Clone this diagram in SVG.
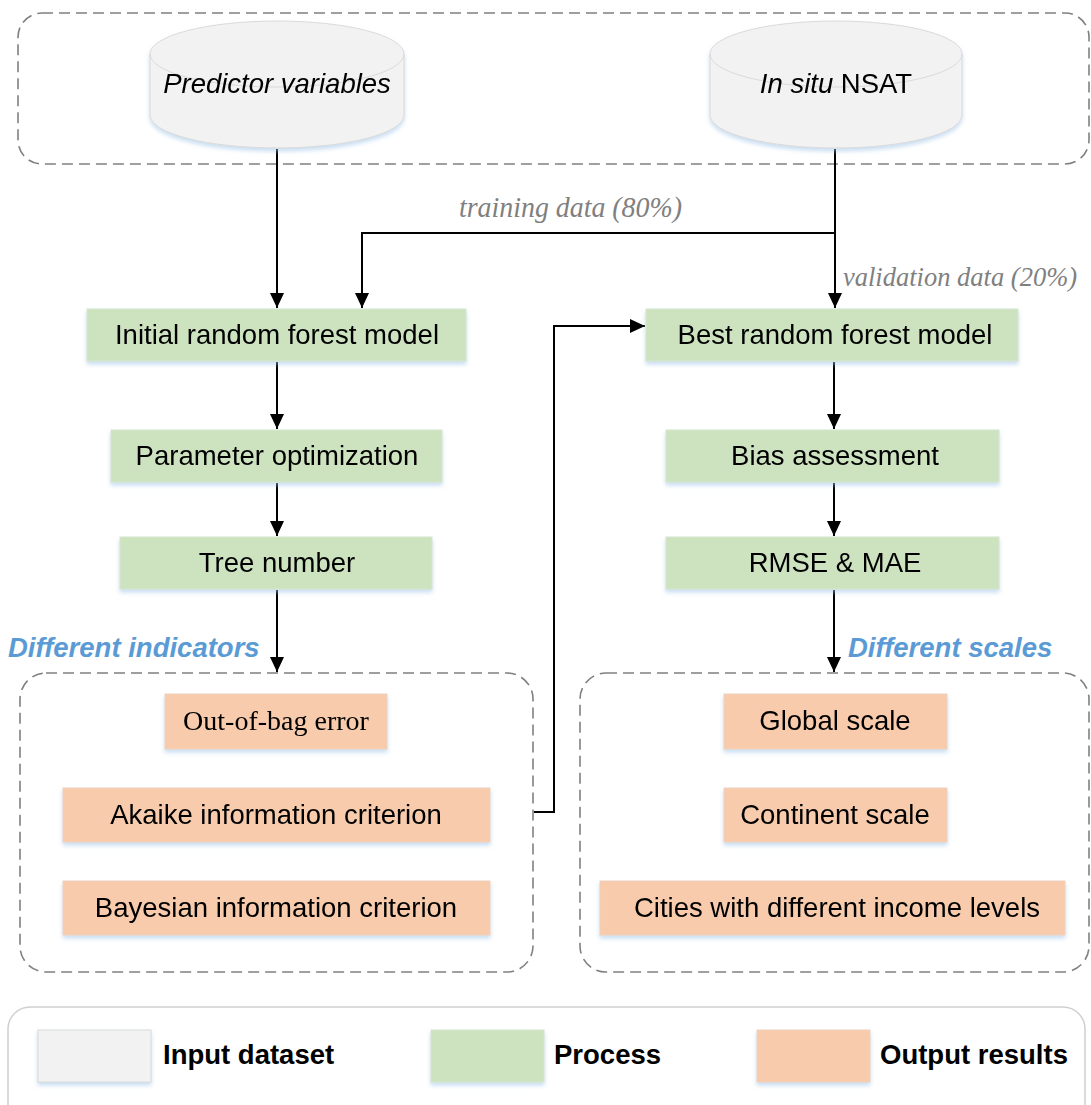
<svg xmlns="http://www.w3.org/2000/svg" width="1091" height="1105" viewBox="0 0 1091 1105">
<style>
.sans{font-family:"Liberation Sans",Arial,sans-serif;font-size:27.5px;fill:#000}
.serif{font-family:"Liberation Serif","Times New Roman",serif;font-size:28px;fill:#000}
.lbl{font-family:"Liberation Serif","Times New Roman",serif;font-style:italic;font-size:29px;fill:#808080}
.lbl2{font-family:"Liberation Serif","Times New Roman",serif;font-style:italic;font-size:26.5px;fill:#808080}
.grp{font-family:"Liberation Sans",Arial,sans-serif;font-style:italic;font-weight:bold;font-size:27.5px;fill:#5b9bd5}
.leg{font-family:"Liberation Sans",Arial,sans-serif;font-weight:bold;font-size:27.5px;fill:#000}
.proc{fill:#cde3c0;stroke:#d6e6cc;stroke-width:1}
.out{fill:#f7cbab;stroke:#f0d2bd;stroke-width:1}
.inp{fill:#f2f2f2;stroke:#dadada;stroke-width:1}
.dash{fill:none;stroke:#808080;stroke-width:1.6;stroke-dasharray:11 6}
.conn{fill:none;stroke:#000;stroke-width:2}
</style>
<defs>
<filter id="sh" x="-10%" y="-20%" width="120%" height="160%">
<feDropShadow dx="0" dy="3" stdDeviation="2" flood-color="#9dc3e6" flood-opacity="0.55"/>
</filter>
<marker id="arr" markerWidth="14" markerHeight="16" refX="15" refY="7" orient="auto" markerUnits="userSpaceOnUse">
<path d="M0,0 L15,7 L0,14 Z" fill="#000"/>
</marker>
</defs>

<g id="container-inputs"><rect class="dash" x="18" y="13" width="1071" height="151" rx="24"/></g>
<g id="container-indicators"><rect class="dash" x="20" y="673" width="513" height="299" rx="26"/></g>
<g id="container-scales"><rect class="dash" x="580" y="673" width="509" height="299" rx="26"/></g>

<g id="connectors">
<path class="conn" d="M277 149 V308" marker-end="url(#arr)"/>
<path class="conn" d="M835 149 V308" marker-end="url(#arr)"/>
<path class="conn" d="M835 233 H362 V308" marker-end="url(#arr)"/>
<path class="conn" d="M277 362 V429" marker-end="url(#arr)"/>
<path class="conn" d="M277 483 V536" marker-end="url(#arr)"/>
<path class="conn" d="M277 590 V672" marker-end="url(#arr)"/>
<path class="conn" d="M834 362 V429" marker-end="url(#arr)"/>
<path class="conn" d="M834 483 V536" marker-end="url(#arr)"/>
<path class="conn" d="M834 590 V672" marker-end="url(#arr)"/>
<path class="conn" d="M534 812 H554 V326 H645" marker-end="url(#arr)"/>
<text class="lbl" x="459" y="217" textLength="223" lengthAdjust="spacingAndGlyphs">training data (80%)</text>
<text class="lbl2" x="843" y="286">validation data (20%)</text>
</g>

<g id="predictor-variables" filter="url(#sh)">
<path class="inp" d="M150 54 A127 33 0 0 1 404 54 V115 A127 33 0 0 1 150 115 Z"/>
<path d="M150 54 A127 33 0 0 0 404 54" fill="none" stroke="#dadada" stroke-width="1"/>
<text class="sans" x="277" y="93" text-anchor="middle" font-style="italic">Predictor variables</text>
</g>
<g id="in-situ-nsat" filter="url(#sh)">
<path class="inp" d="M710 54 A126 33 0 0 1 962 54 V115 A126 33 0 0 1 710 115 Z"/>
<path d="M710 54 A126 33 0 0 0 962 54" fill="none" stroke="#dadada" stroke-width="1"/>
<text class="sans" x="836" y="93" text-anchor="middle"><tspan font-style="italic">In situ</tspan> NSAT</text>
</g>

<g id="initial-rf" filter="url(#sh)"><rect class="proc" x="87" y="309" width="379" height="52"/><text class="sans" x="277" y="344" text-anchor="middle">Initial random forest model</text></g>
<g id="param-opt" filter="url(#sh)"><rect class="proc" x="111" y="430" width="331" height="52"/><text class="sans" x="277" y="465" text-anchor="middle">Parameter optimization</text></g>
<g id="tree-number" filter="url(#sh)"><rect class="proc" x="120" y="537" width="312" height="52"/><text class="sans" x="277" y="572" text-anchor="middle">Tree number</text></g>

<g id="best-rf" filter="url(#sh)"><rect class="proc" x="646" y="309" width="372" height="52"/><text class="sans" x="835" y="344" text-anchor="middle">Best random forest model</text></g>
<g id="bias" filter="url(#sh)"><rect class="proc" x="666" y="430" width="333" height="52"/><text class="sans" x="835" y="465" text-anchor="middle">Bias assessment</text></g>
<g id="rmse-mae" filter="url(#sh)"><rect class="proc" x="666" y="537" width="333" height="52"/><text class="sans" x="835" y="572" text-anchor="middle">RMSE &amp; MAE</text></g>

<g id="label-indicators"><text class="grp" x="8" y="657">Different indicators</text></g>
<g id="label-scales"><text class="grp" x="848" y="657">Different scales</text></g>

<g id="oob" filter="url(#sh)"><rect class="out" x="165" y="694" width="222" height="55"/><text class="serif" x="276" y="730" text-anchor="middle">Out-of-bag error</text></g>
<g id="aic" filter="url(#sh)"><rect class="out" x="63" y="788" width="427" height="54"/><text class="sans" x="276" y="824" text-anchor="middle">Akaike information criterion</text></g>
<g id="bic" filter="url(#sh)"><rect class="out" x="63" y="881" width="427" height="54"/><text class="sans" x="276" y="917" text-anchor="middle">Bayesian information criterion</text></g>

<g id="global" filter="url(#sh)"><rect class="out" x="724" y="694" width="223" height="55"/><text class="sans" x="835" y="730" text-anchor="middle">Global scale</text></g>
<g id="continent" filter="url(#sh)"><rect class="out" x="724" y="788" width="223" height="54"/><text class="sans" x="835" y="824" text-anchor="middle">Continent scale</text></g>
<g id="cities" filter="url(#sh)"><rect class="out" x="600" y="881" width="465" height="54"/><text class="sans" x="837" y="917" text-anchor="middle">Cities with different income levels</text></g>

<g id="legend">
<rect x="8" y="1007" width="1077" height="120" rx="22" fill="#fff" stroke="#d0d0d0" stroke-width="1.5"/>
<rect class="inp" x="38" y="1030" width="113" height="52" filter="url(#sh)"/>
<text class="leg" x="163" y="1064">Input dataset</text>
<rect class="proc" x="431" y="1030" width="113" height="52" filter="url(#sh)"/>
<text class="leg" x="554" y="1064">Process</text>
<rect class="out" x="757" y="1030" width="113" height="52" filter="url(#sh)"/>
<text class="leg" x="880" y="1064">Output results</text>
</g>
</svg>
